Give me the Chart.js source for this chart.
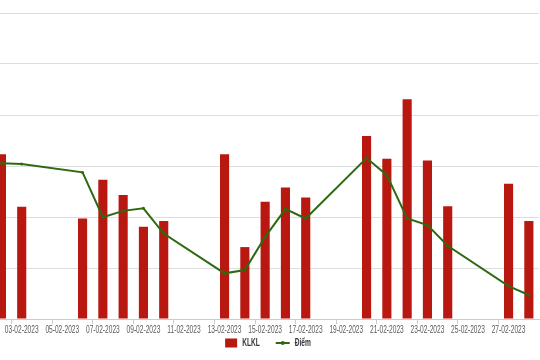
<!DOCTYPE html>
<html>
<head>
<meta charset="utf-8">
<script src="https://cdn.jsdelivr.net/npm/chart.js@4"></script>
<style>
  html, body { margin: 0; padding: 0; background: #fff; overflow: hidden; width: 540px; height: 360px; }
  #c { position: absolute; left: -33px; top: 0; }
</style>
</head>
<body>
<canvas id="c" width="576" height="360"></canvas>
<script>
const categories = ["01-02-2023","02-02-2023","03-02-2023","04-02-2023","05-02-2023","06-02-2023","07-02-2023","08-02-2023","09-02-2023","10-02-2023","11-02-2023","12-02-2023","13-02-2023","14-02-2023","15-02-2023","16-02-2023","17-02-2023","18-02-2023","19-02-2023","20-02-2023","21-02-2023","22-02-2023","23-02-2023","24-02-2023","25-02-2023","26-02-2023","27-02-2023","28-02-2023"];
const klkl = [null,323,220,null,null,197,273,243,181,192,null,null,323,141,230,258,238,null,null,359,314,431,311,221,null,null,265,192];
const diem = [null,1061.1,1060.8,null,null,1057.5,1039.9,1042.4,1043.4,1033.5,null,null,1017.9,1019.2,1032.2,1043.1,1039.4,null,null,1063.1,1056.4,1039.4,1036.8,1028.7,null,null,1012.9,1009.4];
const seriesNames = ["KLKL", "Điểm"];

const BAR_COLOR = '#b8180f';
const LINE_COLOR = '#2d6a12';
const SQUEEZE = 0.66;
const PAGE_SHIFT = 33;

const condensedText = {
  id: 'condensedText',
  afterDraw(chart) {
    const ctx = chart.ctx;
    const xs = chart.scales.x;
    ctx.save();
    // x tick labels
    ctx.font = "10.5px 'Liberation Sans', Arial, sans-serif";
    ctx.fillStyle = '#5a5a5a';
    ctx.textAlign = 'center';
    ctx.textBaseline = 'middle';
    const ly = xs.top + 11;
    categories.forEach((lab, i) => {
      if (i % 2) return;
      const x = xs.getPixelForValue(i);
      ctx.save();
      ctx.translate(x, ly);
      ctx.scale(SQUEEZE * 10 / 10.5, 1);
      ctx.fillText(lab, 0, 0);
      ctx.restore();
    });
    // legend
    ctx.font = "bold 10.5px 'Liberation Sans', Arial, sans-serif";
    const sq = SQUEEZE * 10 / 10.5;
    const w0 = ctx.measureText(seriesNames[0]).width * sq;
    const w1 = ctx.measureText(seriesNames[1]).width * sq;
    const boxW = 12, boxH = 9, lineW = 14, gapIn = 5, gapOut = 16;
    const total = boxW + gapIn + w0 + gapOut + lineW + gapIn + w1;
    const cx = PAGE_SHIFT + 268;
    let x = cx - total / 2;
    const y = 343;
    ctx.fillStyle = BAR_COLOR;
    ctx.fillRect(x, y - boxH / 2, boxW, boxH);
    x += boxW + gapIn;
    ctx.fillStyle = '#333333';
    ctx.textAlign = 'left';
    ctx.save(); ctx.translate(x, y); ctx.scale(sq, 1); ctx.fillText(seriesNames[0], 0, 0); ctx.restore();
    x += w0 + gapOut;
    ctx.strokeStyle = LINE_COLOR;
    ctx.lineWidth = 2;
    ctx.beginPath(); ctx.moveTo(x, y); ctx.lineTo(x + lineW, y); ctx.stroke();
    ctx.fillStyle = LINE_COLOR;
    ctx.beginPath(); ctx.arc(x + lineW / 2, y, 2, 0, Math.PI * 2); ctx.fill();
    x += lineW + gapIn;
    ctx.fillStyle = '#333333';
    ctx.save(); ctx.translate(x, y); ctx.scale(sq, 1); ctx.fillText(seriesNames[1], 0, 0); ctx.restore();
    ctx.restore();
  }
};

new Chart(document.getElementById('c'), {
  data: {
    labels: categories,
    datasets: [
      {
        type: 'line',
        label: seriesNames[1],
        data: diem,
        yAxisID: 'y1',
        borderColor: LINE_COLOR,
        backgroundColor: LINE_COLOR,
        borderWidth: 2,
        pointRadius: 1.5,
        pointBackgroundColor: LINE_COLOR,
        pointBorderWidth: 0,
        spanGaps: true,
        tension: 0,
        order: 0
      },
      {
        type: 'bar',
        label: seriesNames[0],
        data: klkl,
        yAxisID: 'y',
        backgroundColor: BAR_COLOR,
        borderWidth: 0,
        barPercentage: 0.9,
        categoryPercentage: 0.5,
        order: 1
      }
    ]
  },
  options: {
    responsive: false,
    animation: false,
    layout: { padding: { left: 0, right: 0, top: 13, bottom: 36 } },
    scales: {
      x: {
        offset: true,
        grid: {
          drawOnChartArea: false, drawTicks: true, tickLength: 5,
          color: (c) => (c.index % 2 === 0 ? '#cccccc' : 'rgba(0,0,0,0)')
        },
        border: { display: true, color: '#cccccc' },
        ticks: { display: false, autoSkip: false }
      },
      y: {
        position: 'left',
        min: 0, max: 600,
        ticks: { display: false, stepSize: 100 },
        grid: { color: '#dddddd', drawTicks: false },
        border: { display: false }
      },
      y1: {
        position: 'right',
        display: false,
        min: 1000, max: 1120
      }
    },
    plugins: {
      tooltip: { enabled: false },
      legend: { display: false }
    }
  },
  plugins: [condensedText]
});
</script>
</body>
</html>
